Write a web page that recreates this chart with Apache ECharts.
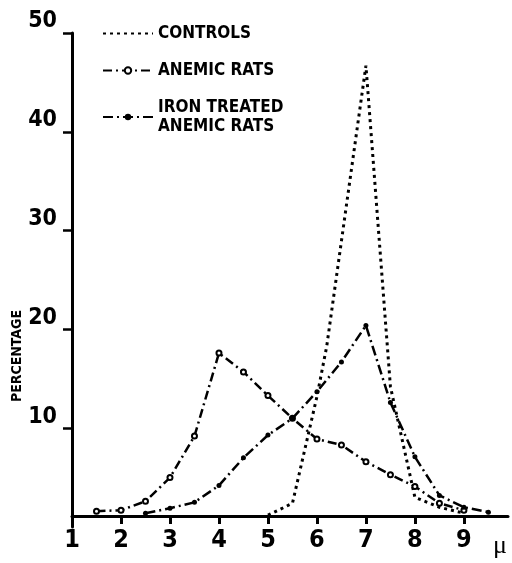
<!DOCTYPE html>
<html>
<head>
<meta charset="utf-8">
<style>html,body{margin:0;padding:0;background:#fff}#c{width:512px;height:563px}</style>
<script src="https://cdn.jsdelivr.net/npm/echarts@6/dist/echarts.min.js"></script>
</head>
<body>
<div id="c"></div>
<script>
// Data
const seriesNames = ['CONTROLS', 'ANEMIC RATS', 'IRON TREATED\nANEMIC RATS'];
const controlsX = [5, 5.5, 6, 6.2, 7, 7.5, 8, 8.5, 9];
const controlsY = [1.2, 2.4, 13.2, 18.3, 46.7, 14.2, 3.0, 2.0, 1.4];
const anemicX = [1.5, 2, 2.5, 3, 3.5, 4, 4.5, 5, 5.5, 6, 6.5, 7, 7.5, 8, 8.5, 9];
const anemicY = [1.6, 1.7, 2.6, 5.0, 9.2, 17.6, 15.7, 13.3, 11.0, 8.9, 8.3, 6.6, 5.3, 4.1, 2.4, 1.7];
const ironX = [2.5, 3, 3.5, 4, 4.5, 5, 5.5, 6, 6.5, 7, 7.5, 8, 8.5, 9, 9.5];
const ironY = [1.4, 1.9, 2.5, 4.2, 7.0, 9.3, 11.0, 13.7, 16.7, 20.4, 12.6, 7.1, 3.2, 2.0, 1.5];
const xTicks = [1, 2, 3, 4, 5, 6, 7, 8, 9];
const yTicks = [10, 20, 30, 40, 50];

const zip = (xs, ys) => xs.map((x, i) => [x, ys[i]]);
const FONT = '"Liberation Sans Narrow", "DejaVu Sans Condensed", "Roboto", sans-serif';

const chart = echarts.init(document.getElementById('c'), null, {renderer: 'canvas'});
chart.setOption({
  animation: false,
  backgroundColor: '#fff',
  grid: {left: 72, right: 4, top: 33, bottom: 36, containLabel: false},
  legend: {
    orient: 'vertical', left: 97, top: 19, itemGap: 18,
    itemWidth: 50, itemHeight: 8,
    textStyle: {fontFamily: FONT, fontWeight: 'bold', fontSize: 17, color: '#000', lineHeight: 19},
    data: [
      {name: seriesNames[0], itemStyle: {color: 'transparent', borderWidth: 0}},
      seriesNames[1],
      seriesNames[2]
    ]
  },
  xAxis: {
    type: 'value', min: 1, max: 9.9, offset: -11,
    splitLine: {show: false},
    axisLine: {lineStyle: {color: '#000', width: 3}},
    axisTick: {customValues: xTicks, length: 8, lineStyle: {color: '#000', width: 3}},
    axisLabel: {customValues: xTicks, color: '#000', fontFamily: FONT, fontWeight: 'bold', fontSize: 25, margin: 12}
  },
  yAxis: {
    type: 'value', min: 0, max: 50,
    splitLine: {show: false},
    axisLine: {show: true, lineStyle: {color: '#000', width: 3}},
    axisTick: {show: true, customValues: yTicks, length: 9, lineStyle: {color: '#000', width: 2.5}},
    axisLabel: {customValues: yTicks, color: '#000', fontFamily: FONT, fontWeight: 'bold', fontSize: 23, margin: 15, verticalAlign: 'bottom'}
  },
  graphic: [
    {type: 'text', x: 17, y: 356, rotation: Math.PI / 2,
     style: {text: 'PERCENTAGE', fill: '#000', font: 'bold 14px ' + FONT, textAlign: 'center', textVerticalAlign: 'middle'}},
    {type: 'text', x: 500, y: 546,
     style: {text: 'μ', fill: '#000', font: '26px "Liberation Serif", "DejaVu Serif", serif', textAlign: 'center', textVerticalAlign: 'middle'}}
  ],
  series: [
    {name: seriesNames[0], type: 'line', data: zip(controlsX, controlsY), showSymbol: false, symbol: 'none',
     lineStyle: {color: '#000', width: 3, type: [3, 4]}, itemStyle: {color: '#000'}},
    {name: seriesNames[1], type: 'line', data: zip(anemicX, anemicY), symbol: 'emptyCircle', symbolSize: 5,
     lineStyle: {color: '#000', width: 2.5, type: [9, 4, 2, 4]}, itemStyle: {color: '#000', borderWidth: 1.5, borderColor: '#000'}},
    {name: seriesNames[2], type: 'line', data: zip(ironX, ironY), symbol: 'circle', symbolSize: 5,
     lineStyle: {color: '#000', width: 2.5, type: [10, 4, 2, 4]}, itemStyle: {color: '#000'}}
  ]
});
</script>
</body>
</html>
